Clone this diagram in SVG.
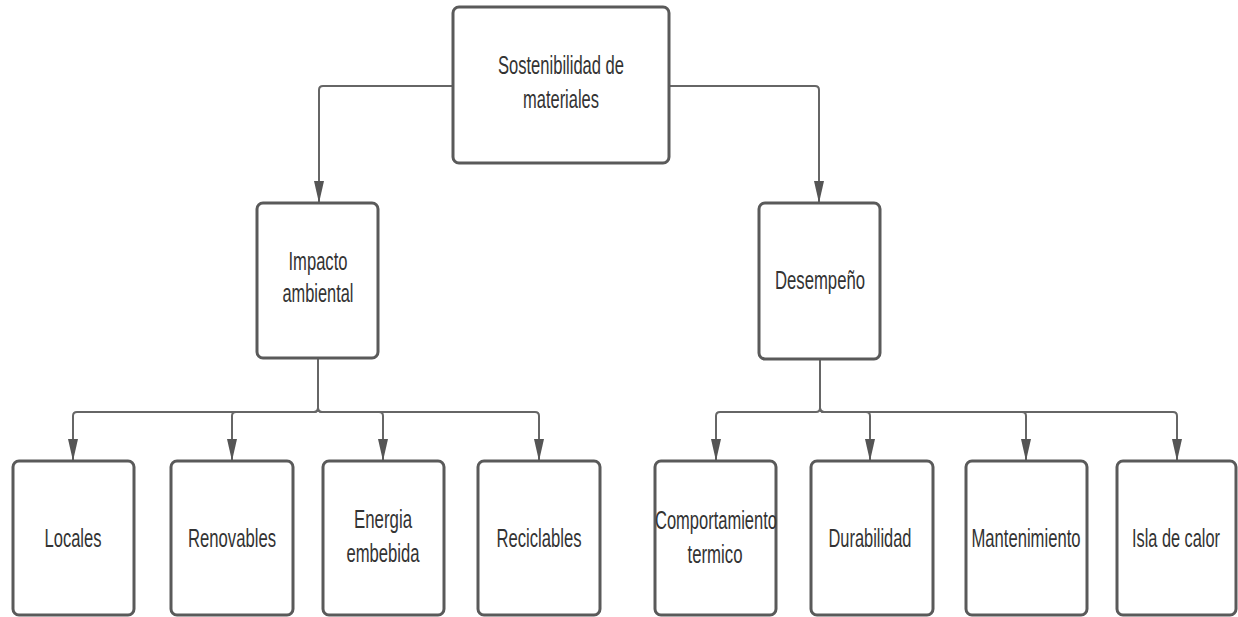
<svg xmlns="http://www.w3.org/2000/svg" width="1238" height="617" viewBox="0 0 1238 617">
<style>
.box{fill:#fff;stroke:#5a5a5a;stroke-width:3}
.lbl{font-family:"Liberation Sans",Arial,sans-serif;font-size:25px;fill:#333;text-anchor:middle}
.con{fill:none;stroke:#666;stroke-width:2;marker-end:url(#arr)}
</style>
<defs>
<marker id="arr" markerUnits="userSpaceOnUse" markerWidth="22" markerHeight="10" refX="22" refY="5" orient="auto">
<path d="M0,0 L22,5 L0,10 z" fill="#555"/>
</marker>
</defs>
<rect width="1238" height="617" fill="#fff"/>
<g id="connectors">
<path class="con" d="M453,86 H323 q-4,0 -4,4 V203"/>
<path class="con" d="M669,86 H815 q4,0 4,4 V203"/>
<path class="con" d="M318,359 V408 q0,4 -4,4 H77 q-4,0 -4,4 V461"/>
<path class="con" d="M318,359 V408 q0,4 -4,4 H236 q-4,0 -4,4 V461"/>
<path class="con" d="M318,359 V408 q0,4 4,4 H379 q4,0 4,4 V461"/>
<path class="con" d="M318,359 V408 q0,4 4,4 H535 q4,0 4,4 V461"/>
<path class="con" d="M820,360 V408 q0,4 -4,4 H720 q-4,0 -4,4 V461"/>
<path class="con" d="M820,360 V408 q0,4 4,4 H866 q4,0 4,4 V461"/>
<path class="con" d="M820,360 V408 q0,4 4,4 H1022 q4,0 4,4 V461"/>
<path class="con" d="M820,360 V408 q0,4 4,4 H1173 q4,0 4,4 V461"/>
</g>
<g id="n-root">
<rect class="box" x="453" y="7" width="216" height="156" rx="6"/>
<text class="lbl" x="561" y="74" textLength="126" lengthAdjust="spacingAndGlyphs">Sostenibilidad de</text>
<text class="lbl" x="561" y="108" textLength="76" lengthAdjust="spacingAndGlyphs">materiales</text>
</g>
<g id="n-impacto">
<rect class="box" x="257" y="203" width="121" height="155" rx="6"/>
<text class="lbl" x="318" y="270" textLength="59" lengthAdjust="spacingAndGlyphs">Impacto</text>
<text class="lbl" x="318" y="302" textLength="71" lengthAdjust="spacingAndGlyphs">ambiental</text>
</g>
<g id="n-desempeno">
<rect class="box" x="759" y="203" width="121" height="156" rx="6"/>
<text class="lbl" x="820" y="289" textLength="90" lengthAdjust="spacingAndGlyphs">Desempeño</text>
</g>
<g id="n-locales">
<rect class="box" x="13" y="461" width="121" height="154" rx="6"/>
<text class="lbl" x="73" y="547" textLength="57" lengthAdjust="spacingAndGlyphs">Locales</text>
</g>
<g id="n-renovables">
<rect class="box" x="171" y="461" width="122" height="154" rx="6"/>
<text class="lbl" x="232" y="547" textLength="88" lengthAdjust="spacingAndGlyphs">Renovables</text>
</g>
<g id="n-energia">
<rect class="box" x="323" y="461" width="121" height="154" rx="6"/>
<text class="lbl" x="383" y="528" textLength="58" lengthAdjust="spacingAndGlyphs">Energia</text>
<text class="lbl" x="383" y="562" textLength="73" lengthAdjust="spacingAndGlyphs">embebida</text>
</g>
<g id="n-reciclables">
<rect class="box" x="478" y="461" width="122" height="154" rx="6"/>
<text class="lbl" x="539" y="547" textLength="85" lengthAdjust="spacingAndGlyphs">Reciclables</text>
</g>
<g id="n-comportamiento">
<rect class="box" x="655" y="461" width="121" height="154" rx="6"/>
<text class="lbl" x="716" y="529" textLength="122" lengthAdjust="spacingAndGlyphs">Comportamiento</text>
<text class="lbl" x="715" y="563" textLength="55" lengthAdjust="spacingAndGlyphs">termico</text>
</g>
<g id="n-durabilidad">
<rect class="box" x="811" y="461" width="122" height="154" rx="6"/>
<text class="lbl" x="870" y="547" textLength="83" lengthAdjust="spacingAndGlyphs">Durabilidad</text>
</g>
<g id="n-mantenimiento">
<rect class="box" x="966" y="461" width="121" height="154" rx="6"/>
<text class="lbl" x="1026" y="547" textLength="109" lengthAdjust="spacingAndGlyphs">Mantenimiento</text>
</g>
<g id="n-isla">
<rect class="box" x="1117" y="461" width="119" height="154" rx="6"/>
<text class="lbl" x="1176" y="547" textLength="88" lengthAdjust="spacingAndGlyphs">Isla de calor</text>
</g>
</svg>
